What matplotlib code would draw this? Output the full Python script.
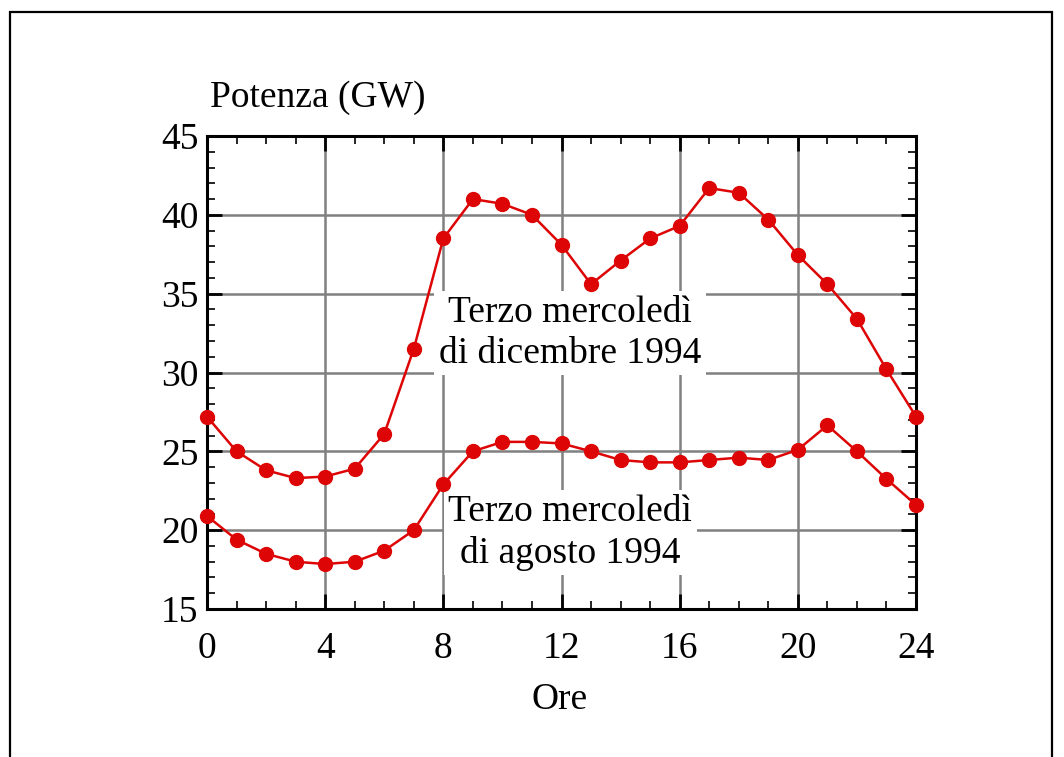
import matplotlib
matplotlib.use("Agg")
import matplotlib.pyplot as plt
from matplotlib.ticker import MultipleLocator
from matplotlib.patches import Rectangle

# hourly load, third Wednesday of December and August 1994 (GW)
ore = list(range(25))
dicembre = [27.2, 25.0, 23.8, 23.3, 23.4, 23.9, 26.1, 31.5, 38.5, 41.0, 40.7, 40.0, 38.1,
            35.6, 37.1, 38.5, 39.3, 41.7, 41.4, 39.7, 37.45, 35.6, 33.4, 30.2, 27.2]
agosto = [20.9, 19.4, 18.5, 18.0, 17.85, 18.0, 18.7, 20.0, 22.9, 25.0, 25.6, 25.6, 25.5,
          25.0, 24.45, 24.3, 24.3, 24.45, 24.6, 24.45, 25.1, 26.65, 25.0, 23.25, 21.6]

plt.rcParams['font.family'] = ['Liberation Serif', 'DejaVu Serif']
FS = 27
rosso = '#dd0505'

fig = plt.figure(figsize=(10.64, 7.57), dpi=100)
ax = fig.add_axes([207 / 1064, 1 - 609 / 757, (916 - 207) / 1064, (609 - 136) / 757])

# outer frame (open at the bottom)
fig.patches.append(Rectangle((10 / 1064, -0.1), (1052 - 10) / 1064, 1.1 - 12 / 757,
                             transform=fig.transFigure, fill=False, edgecolor='black',
                             linewidth=1.6))

ax.plot(ore, dicembre, color=rosso, lw=1.8, marker='o', ms=10, zorder=4, clip_on=False)
ax.plot(ore, agosto, color=rosso, lw=1.8, marker='o', ms=10, zorder=4, clip_on=False)

ax.set_xlim(0, 24)
ax.set_ylim(15, 45)
ax.xaxis.set_major_locator(MultipleLocator(4))
ax.xaxis.set_minor_locator(MultipleLocator(1))
ax.yaxis.set_major_locator(MultipleLocator(5))
ax.yaxis.set_minor_locator(MultipleLocator(1))
ax.grid(True, which='major', color='#808080', linewidth=1.8)
ax.set_axisbelow(True)

ax.tick_params(which='both', direction='in', top=True, right=True, labelsize=FS)
ax.tick_params(which='major', length=11, width=2)
ax.tick_params(which='minor', length=5.5, width=1.2)
ax.tick_params(axis='x', which='major', pad=16)
ax.tick_params(axis='y', which='major', pad=6)
for s in ax.spines.values():
    s.set_linewidth(2.2)

box = dict(facecolor='white', edgecolor='none', boxstyle='square,pad=0.12')
ax.text(12.29, 32.5, "Terzo mercoledì\ndi dicembre 1994", ha='center', va='center',
        multialignment='center', fontsize=FS, linespacing=1.25, bbox=box, zorder=3)
ax.text(12.29, 19.85, "Terzo mercoledì\ndi agosto 1994", ha='center', va='center',
        multialignment='center', fontsize=FS, linespacing=1.25, bbox=box, zorder=3)

fig.text(210 / 1064, 1 - 98 / 757, "Potenza (GW)", ha='left', va='center', fontsize=FS)
fig.text(560 / 1064, 1 - 700 / 757, "Ore", ha='center', va='center', fontsize=FS)

fig.savefig("out.png", dpi=100)
